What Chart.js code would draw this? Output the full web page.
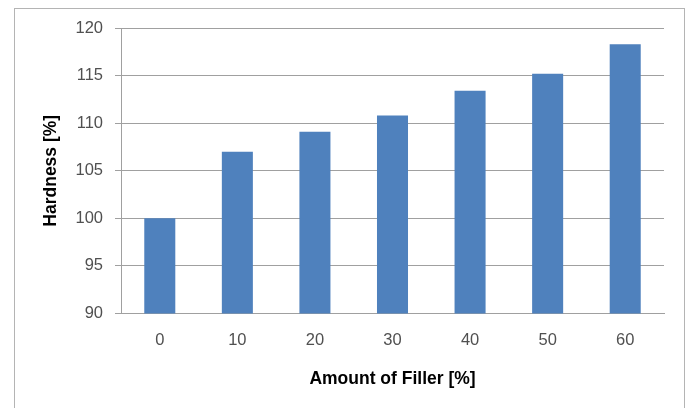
<!DOCTYPE html>
<html>
<head>
<meta charset="utf-8">
<title>Hardness vs. Amount of Filler</title>
<script src="https://cdn.jsdelivr.net/npm/chart.js@4.4.1/dist/chart.umd.min.js"></script>
<style>
  html, body { margin: 0; padding: 0; background: #ffffff; }
  #wrap { width: 688px; height: 408px; position: relative; }
</style>
</head>
<body>
<div id="wrap"><canvas id="chart" width="688" height="408"></canvas></div>
<script>
// Filler content (%) and measured relative hardness (%)
const fillerAmounts = ['0', '10', '20', '30', '40', '50', '60'];
const hardnessValues = [100.0, 107.0, 109.1, 110.8, 113.4, 115.2, 118.3];
const yTickValues = [90, 95, 100, 105, 110, 115, 120];

const xTitle = 'Amount of Filler [%]';
const yTitle = 'Hardness [%]';

// Thin grey frame around the whole chart
const frame = {
  id: 'frame',
  beforeDraw(chart) {
    const ctx = chart.ctx;
    ctx.save();
    ctx.fillStyle = '#ffffff';
    ctx.fillRect(0, 0, chart.width, chart.height);
    ctx.strokeStyle = '#b4b4b4';
    ctx.lineWidth = 1;
    ctx.strokeRect(14.5, 8.5, 670, 412);
    ctx.restore();
  }
};

const tickFont = { family: 'Liberation Sans, Arial, sans-serif', size: 16.5 };
const titleFont = { family: 'Liberation Sans, Arial, sans-serif', size: 17.5, weight: 'bold' };

new Chart(document.getElementById('chart'), {
  type: 'bar',
  data: {
    labels: fillerAmounts,
    datasets: [{
      data: hardnessValues,
      backgroundColor: '#4f81bd',
      borderWidth: 0,
      barPercentage: 0.4,
      categoryPercentage: 1.0
    }]
  },
  options: {
    responsive: false,
    animation: false,
    devicePixelRatio: 1,
    layout: { padding: { left: 41, right: 24, top: 28, bottom: 18 } },
    plugins: {
      legend: { display: false },
      tooltip: { enabled: false }
    },
    scales: {
      x: {
        grid: { display: false, drawTicks: false, tickLength: 0 },
        border: { display: true, color: '#a0a0a0', width: 1 },
        ticks: { color: '#505050', font: tickFont, padding: 17, maxRotation: 0 },
        title: { display: true, text: xTitle, color: '#000000', font: titleFont, padding: 0 },
        afterFit(scale) { scale.height = 76.5; }
      },
      y: {
        min: 90,
        max: 120,
        afterBuildTicks(scale) { scale.ticks = yTickValues.map(v => ({ value: v })); },
        grid: { color: '#a0a0a0', lineWidth: 1, drawTicks: true, tickLength: 6 },
        border: { display: true, color: '#a0a0a0', width: 1 },
        ticks: { color: '#505050', font: tickFont, padding: 12 },
        title: { display: true, text: yTitle, color: '#000000', font: titleFont, padding: 0 },
        afterFit(scale) { scale.width = 80; }
      }
    }
  },
  plugins: [frame]
});
</script>
</body>
</html>
